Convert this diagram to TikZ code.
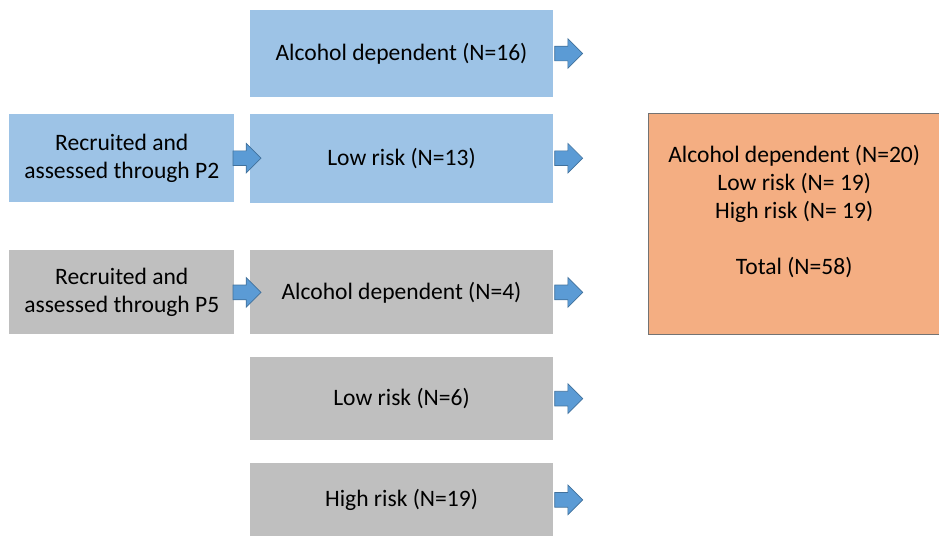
\documentclass[tikz,border=0pt]{standalone}
\usepackage{fontspec}
\setmainfont{Carlito}
\usepackage{tikz}
\usetikzlibrary{positioning, shapes.arrows}

\definecolor{boxblue}{HTML}{9DC3E6}
\definecolor{boxgray}{HTML}{BFBFBF}
\definecolor{boxorange}{HTML}{F4AE82}
\definecolor{arrowfill}{HTML}{5B9BD5}
\definecolor{arrowline}{HTML}{41719C}

\begin{document}
\begin{tikzpicture}[
    node distance=0.32cm and 0.3cm,
    font=\fontsize{13.4}{15.9}\selectfont,
    box/.style={
        rectangle,
        align=center,
        minimum width=6.06cm,
        minimum height=1.74cm,
        inner sep=4pt
    },
    source/.style={
        box,
        minimum width=4.5cm,
        minimum height=1.76cm
    },
    blue/.style={fill=boxblue},
    gray/.style={fill=boxgray},
    total/.style={
        rectangle,
        draw=gray!90!black,
        fill=boxorange,
        align=center,
        minimum width=5.82cm,
        minimum height=4.42cm
    },
    blockarrow/.style={
        single arrow,
        draw=arrowline,
        fill=arrowfill,
        line width=0.4pt,
        inner xsep=0pt,
        inner ysep=0.14cm,
        minimum height=0.56cm,
        single arrow head extend=0.15cm,
        single arrow head indent=0pt
    }
]
\useasboundingbox (0,0) rectangle (18.78,-10.7);

% Row 1
\node[box, blue] (a1) at (8.03,-1.07) {Alcohol dependent (N=16)};

% Row 2
\node[box, blue, minimum height=1.78cm] (a2) [below=of a1] {Low risk (N=13)};
\node[source, blue] (p2) [left=of a2] {Recruited and\\assessed through P2};

% Row 3
\node[box, gray, minimum height=1.68cm] (b1) [below=0.94cm of a2] {Alcohol dependent (N=4)};
\node[source, gray, minimum height=1.68cm] (p5) [left=of b1] {Recruited and\\assessed through P5};

% Row 4
\node[box, gray, minimum height=1.66cm] (b2) [below=0.44cm of b1] {Low risk (N=6)};

% Row 5
\node[box, gray, minimum height=1.48cm] (b3) [below=0.44cm of b2] {High risk (N=19)};

% Totals
\node[total, anchor=north west] (sum) at ([xshift=1.9cm]a2.north east) {%
Alcohol dependent (N=20)\\
Low risk (N= 19)\\
High risk (N= 19)\\[15.9pt]
Total (N=58)\\
\mbox{}
};

% Arrows
\node[blockarrow] (p2arrow) [right=-0.04cm of p2] {};
\node[blockarrow] (p5arrow) [right=-0.04cm of p5] {};
\node[blockarrow] (a1arrow) [right=0.02cm of a1] {};
\node[blockarrow] (a2arrow) [right=0.02cm of a2] {};
\node[blockarrow] (b1arrow) [right=0.02cm of b1] {};
\node[blockarrow] (b2arrow) [right=0.02cm of b2] {};
\node[blockarrow] (b3arrow) [right=0.02cm of b3] {};

\end{tikzpicture}
\end{document}
